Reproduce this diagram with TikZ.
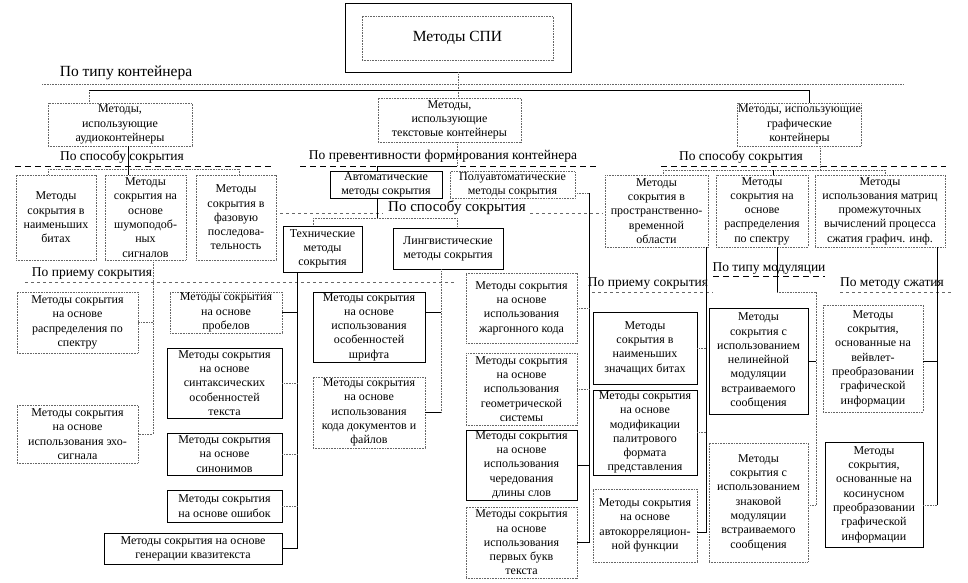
\documentclass[tikz,border=0pt]{standalone}
\usepackage{fontspec}
\setmainfont{Liberation Serif}
\usetikzlibrary{calc}
\tikzset{
  sol/.style={draw=black, line width=0.8pt},
  dts/.style={draw=black!60, line width=0.8pt, dash pattern=on 0.8pt off 0.8pt},
  sbox/.style={sol, align=center, inner sep=1pt, font=\fontsize{12}{14.3}\selectfont},
  dbox/.style={dts, align=center, inner sep=1pt, font=\fontsize{12}{14.3}\selectfont},
  lab/.style={inner sep=0pt, font=\fontsize{13.5}{15}\selectfont},
  dashsep/.style={draw=black, line width=0.9pt, dash pattern=on 6pt off 4pt},
  dotsep/.style={draw=black!60, line width=0.8pt, dash pattern=on 3pt off 3pt},
}
\begin{document}
\begin{tikzpicture}[x=1pt,y=-1pt]
\useasboundingbox (0,0) rectangle (968,582);
% top
\node[sbox, minimum width=226pt, minimum height=69pt] (spio) at (458,37.5) {};
\node[dbox, minimum width=191pt, minimum height=44pt, font=\fontsize{15.5}{17}\selectfont] (spi) at (457.5,38) {Методы СПИ};
\node[lab, font=\fontsize{15.5}{17}\selectfont] (ltype) at (126,73) {По типу контейнера};
\draw[dts] (42,84) -- (904,84);
% level 2
\node[dbox, minimum width=144pt, minimum height=43pt] (aud) at (120,124.5) {Методы,\\ использующие\\ аудиоконтейнеры};
\node[dbox, minimum width=143pt, minimum height=44pt] (txt) at (449.5,120) {Методы,\\ использующие\\ текстовые контейнеры};
\node[dbox, minimum width=115pt, minimum height=43pt] (gr) at (799.5,124.5) {Методы, использующие\\ графические\\ контейнеры};
\draw[dts] (spio.south) -- (spio.south |- txt.north);
\coordinate (busL) at (89,90);
\coordinate (busR) at (809,90);
\draw[dts] (busL) -- (busL |- aud.north);
\draw[sol] (busL) -- (busR) -- (busR |- gr.north);
% audio branch
\node[lab] (la1) at (122,157) {По способу сокрытия};
\draw[dashsep] (15,166) -- (273,166);
\node[dbox, minimum width=80pt, minimum height=85pt] (A1) at (56,217.5) {Методы\\ сокрытия в\\ наименьших\\ битах};
\node[dbox, minimum width=81pt, minimum height=85pt] (A2) at (145.5,217.5) {Методы\\ сокрытия на\\ основе\\ шумоподоб-\\ ных\\ сигналов};
\node[dbox, minimum width=80pt, minimum height=85pt] (A3) at (236,217.5) {Методы\\ сокрытия в\\ фазовую\\ последова-\\ тельность};
\coordinate (ja) at (128,169);
\coordinate (ja1) at (48,169);
\coordinate (ja3) at (239,169);
\draw[sol] (ja |- aud.south) -- (ja);
\draw[dts] (ja1) -- (ja3);
\draw[dts] (ja1) -- (ja1 |- A1.north);
\draw[sol] (ja) -- (ja |- A2.north);
\draw[dts] (ja3) -- (ja3 |- A3.north);
\node[lab] (la2) at (92,274) {По приему сокрытия};
\draw[dotsep] (25,282) -- (455,282);
\node[dbox, minimum width=121pt, minimum height=61pt] (B1) at (77.5,322.5) {Методы сокрытия\\ на основе\\ распределения по\\ спектру};
\node[dbox, minimum width=121pt, minimum height=58pt] (B2) at (77.5,434) {Методы сокрытия\\ на основе\\ использования эхо-\\ сигнала};
\coordinate (vb) at (153,0);
\draw[dts] (vb |- A2.south) -- (vb |- B2.east) -- (B2.east);
\draw[dts] (vb |- B1.east) -- (B1.east);
% text branch
\node[lab] (lt1) at (443,156) {По превентивности формирования контейнера};
\draw[dashsep] (300,166) -- (598,166);
\node[sbox, minimum width=112pt, minimum height=26pt] (auto) at (386,185) {Автоматические\\ методы сокрытия};
\node[dbox, minimum width=125pt, minimum height=26pt] (semi) at (512.5,185) {Полуавтоматические\\ методы сокрытия};
\coordinate (jt) at (457,166);
\coordinate (jt1) at (377,166);
\draw[dts] (jt |- txt.south) -- (jt);
\draw[sol] (jt) -- (jt1) -- (jt1 |- auto.north);
\node[lab, font=\fontsize{15}{17}\selectfont] (lt2) at (457,208) {По способу сокрытия};
\draw[dotsep] (280,213) -- (383,213);
\draw[dotsep] (530,213) -- (603,213);
\node[sbox, minimum width=79pt, minimum height=46pt] (tech) at (322.5,249) {Технические\\ методы\\ сокрытия};
\node[sbox, minimum width=110pt, minimum height=41pt] (ling) at (448,248.5) {Лингвистические\\ методы сокрытия};
\coordinate (ja2) at (377,218);
\coordinate (jtl) at (313,218);
\coordinate (jtr) at (457,218);
\draw[sol] (auto.south -| ja2) -- (ja2);
\draw[dts] (jtl) -- (jtr);
\draw[dts] (jtl) -- (jtl |- tech.north);
\draw[dts] (jtr) -- (jtr |- ling.north);
% technical children
\node[dbox, minimum width=112pt, minimum height=41pt] (C1) at (226,312.5) {Методы сокрытия\\ на основе\\ пробелов};
\node[sbox, minimum width=115pt, minimum height=70pt] (C2) at (224.5,383) {Методы сокрытия\\ на основе\\ синтаксических\\ особенностей\\ текста};
\node[sbox, minimum width=115pt, minimum height=42pt] (C3) at (224.5,454) {Методы сокрытия\\ на основе\\ синонимов};
\node[sbox, minimum width=115pt, minimum height=32pt] (C4) at (224.5,506) {Методы сокрытия\\ на основе ошибок};
\node[sbox, minimum width=178pt, minimum height=31pt] (C5) at (193,548.5) {Методы сокрытия на основе\\ генерации квазитекста};
\coordinate (vt) at (297,0);
\draw[sol] (vt |- tech.south) -- (vt |- C5.east);
\draw[sol] (C1.east) -- (C1.east -| vt);
\draw[dts] (C2.east) -- (C2.east -| vt);
\draw[dts] (C3.east) -- (C3.east -| vt);
\draw[dts] (C4.east) -- (C4.east -| vt);
\draw[sol] (C5.east) -- (C5.east -| vt);
% linguistic children
\node[sbox, minimum width=112pt, minimum height=70pt] (D1) at (369,327) {Методы сокрытия\\ на основе\\ использования\\ особенностей\\ шрифта};
\node[dbox, minimum width=112pt, minimum height=71pt] (D2) at (369,412.5) {Методы сокрытия\\ на основе\\ использования\\ кода документов и\\ файлов};
\coordinate (vl) at (441,0);
\coordinate (d1p) at ($(D1.north east)!0.29!(D1.south east)$);
\draw[dts] (vl |- ling.south) -- (vl |- D2.east);
\draw[sol] (d1p) -- (d1p -| vl);
\draw[sol] (D2.east) -- (D2.east -| vl);
% semi-automatic children
\node[dbox, minimum width=111pt, minimum height=70pt] (E1) at (521.5,308) {Методы сокрытия\\ на основе\\ использования\\ жаргонного кода};
\node[dbox, minimum width=111pt, minimum height=72pt] (E2) at (521.5,389) {Методы сокрытия\\ на основе\\ использования\\ геометрической\\ системы};
\node[sbox, minimum width=111pt, minimum height=70pt] (E3) at (521.5,465) {Методы сокрытия\\ на основе\\ использования\\ чередования\\ длины слов};
\node[dbox, minimum width=111pt, minimum height=71pt] (E4) at (521.5,542.5) {Методы сокрытия\\ на основе\\ использования\\ первых букв\\ текста};
\coordinate (vs) at (589,193);
\draw[dts] (vs -| semi.east) -- (vs);
\draw[sol] (vs) -- (vs |- E4.east);
\draw[dts] (E1.east) -- (E1.east -| vs);
\draw[dts] (E2.east) -- (E2.east -| vs);
\draw[sol] (E3.east) -- (E3.east -| vs);
\draw[sol] (E4.east) -- (E4.east -| vs);
% graphic branch
\node[lab] (lg1) at (741,157) {По способу сокрытия};
\draw[dashsep] (661,166) -- (946,166);
\node[dbox, minimum width=103pt, minimum height=72pt] (F1) at (656.5,211) {Методы\\ сокрытия в\\ пространственно-\\ временной\\ области};
\node[dbox, minimum width=92pt, minimum height=72pt] (F2) at (762,211) {Методы\\ сокрытия на\\ основе\\ распределения\\ по спектру};
\node[dbox, minimum width=130pt, minimum height=72pt] (F3) at (880,211) {Методы\\ использования матриц\\ промежуточных\\ вычислений процесса\\ сжатия графич. инф.};
\coordinate (jg) at (820,170);
\coordinate (jg1) at (663,170);
\coordinate (jg2) at (773,170);
\coordinate (jg3) at (885,170);
\draw[dts] (jg |- gr.south) -- (jg);
\draw[dts] (jg1) -- (jg3);
\draw[dts] (jg1) -- (jg1 |- F1.north);
\draw[sol] (jg2) -- (jg2 |- F2.north);
\draw[dts] (jg3) -- (jg3 |- F3.north);
% by reception
\node[lab] (lg2) at (648,284) {По приему сокрытия};
\draw[dotsep] (592,292) -- (713,292);
\node[sbox, minimum width=104pt, minimum height=72pt] (G1) at (645,348) {Методы\\ сокрытия в\\ наименьших\\ значащих битах};
\node[sbox, minimum width=104pt, minimum height=85pt] (G2) at (645,432.5) {Методы сокрытия\\ на основе\\ модификации\\ палитрового\\ формата\\ представления};
\node[dbox, minimum width=104pt, minimum height=73pt] (G3) at (645,525.5) {Методы сокрытия\\ на основе\\ автокорреляцион-\\ ной функции};
\coordinate (vf1) at (706,0);
\coordinate (g3p) at ($(G3.north east)!0.6!(G3.south east)$);
\draw[sol] (vf1 |- F1.south) -- (vf1 |- g3p);
\draw[dts] (G1.east) -- (G1.east -| vf1);
\draw[dts] (G2.east) -- (G2.east -| vf1);
\draw[sol] (g3p) -- (g3p -| vf1);
% by modulation
\node[lab] (lg3) at (769,269) {По типу модуляции};
\draw[dashsep] (713,276) -- (825,276);
\node[sbox, minimum width=99pt, minimum height=106pt] (H1) at (758.5,361) {Методы\\ сокрытия с\\ использованием\\ нелинейной\\ модуляции\\ встраиваемого\\ сообщения};
\node[dbox, minimum width=99pt, minimum height=119pt] (H2) at (758.5,502.5) {Методы\\ сокрытия с\\ использованием\\ знаковой\\ модуляции\\ встраиваемого\\ сообщения};
\coordinate (vf2) at (777,292);
\coordinate (vf2b) at (816,292);
\coordinate (h2p) at ($(H2.north east)!0.52!(H2.south east)$);
\draw[sol] (vf2 |- F2.south) -- (vf2);
\draw[dts] (vf2) -- (vf2b) -- (vf2b |- h2p);
\draw[sol] (H1.east) -- (H1.east -| vf2b);
\draw[dts] (h2p) -- (h2p -| vf2b);
% by compression
\node[lab] (lg4) at (892,284) {По методу сжатия};
\draw[dotsep] (840,292) -- (953,292);
\node[dbox, minimum width=100pt, minimum height=107pt] (I1) at (873,358.5) {Методы\\ сокрытия,\\ основанные на\\ вейвлет-\\ преобразовании\\ графической\\ информации};
\node[sbox, minimum width=98pt, minimum height=105pt] (I2) at (874,494.5) {Методы\\ сокрытия,\\ основанные на\\ косинусном\\ преобразовании\\ графической\\ информации};
\coordinate (vf3) at (937,0);
\coordinate (i1p) at ($(I1.north east)!0.53!(I1.south east)$);
\coordinate (i2p) at ($(I2.north east)!0.6!(I2.south east)$);
\draw[sol] (vf3 |- F3.south) -- (vf3 |- i2p);
\draw[sol] (i1p) -- (i1p -| vf3);
\draw[dts] (i2p) -- (i2p -| vf3);
\end{tikzpicture}
\end{document}
